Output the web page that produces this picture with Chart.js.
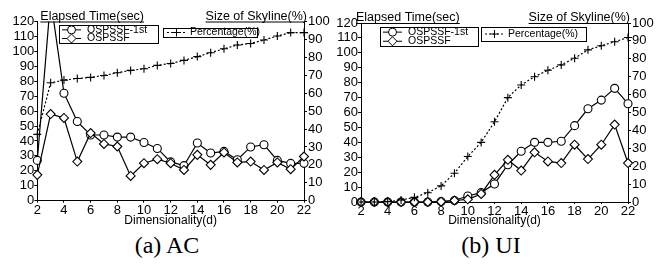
<!DOCTYPE html>
<html lang="en">
<head>
<meta charset="UTF-8">
<script src="https://cdn.jsdelivr.net/npm/chart.js"></script>
<style>
  body { margin: 0; background: #fff; }
  #wrap { position: relative; width: 663px; height: 264px; overflow: hidden; }
  canvas { position: absolute; top: 0; }
  #left { left: 0; }
  #right { left: 331px; }
  .cap {
    position: absolute; top: 232px; width: 160px; text-align: center;
    font-family: "Liberation Serif", "Times New Roman", serif; font-size: 24px; color: #000;
  }
</style>
</head>
<body>
<div id="wrap">
  <canvas id="left" width="331" height="230"></canvas>
  <canvas id="right" width="332" height="230"></canvas>
  <div class="cap" style="left:87px">(a) AC</div>
  <div class="cap" style="left:411px">(b) UI</div>
</div>
<script>
const dims = [2, 3, 4, 5, 6, 7, 8, 9, 10, 11, 12, 13, 14, 15, 16, 17, 18, 19, 20, 21, 22];

// (a) AC
const acFirst = [27, 135, 72, 53, 44, 44, 42.6, 42.6, 39, 35, 26, 23.5, 38.6, 31.9, 33, 27.4, 36, 37.5, 27, 25, 25];
const acSSF   = [17.3, 58, 55.4, 26.2, 45.3, 38, 36.3, 16.6, 25.1, 27.8, 25.1, 20.6, 30.7, 24, 32.3, 25.6, 26.2, 20.6, 25.6, 21.1, 29.6];
const acPct   = [37, 65.8, 67.3, 68.2, 68.8, 69.9, 71.4, 72.7, 73.6, 75.5, 76.6, 78.3, 80.4, 82.6, 84.8, 86.9, 87.7, 89.7, 91.9, 93.8, 93.8];

// (b) UI
const uiFirst = [0, 0, 0, 0, 0, 0, 0.3, 1, 4, 6.3, 12.1, 25, 34, 40, 40, 40.7, 51.2, 62.5, 68.3, 76.2, 65.9];
const uiSSF   = [0, 0, 0, 0, 0, 0, 0.2, 1, 1.8, 5.4, 18.2, 28.3, 21.1, 33.3, 27.2, 26.1, 38.4, 28.8, 38.4, 51.9, 26.1];
const uiPct   = [0, 0, 0.2, 1.1, 2.6, 5.2, 9, 16.1, 25.4, 33.3, 44.8, 58.3, 65.4, 70, 73.6, 76.6, 80.3, 85, 87.3, 89.5, 91.9];

const timeTicks = [0, 120, 10];
const pctTicks = [0, 100, 10];
const FONT = '"Liberation Sans", Arial, sans-serif';

function pts(ys) { return ys.map((y, i) => ({ x: dims[i], y: y })); }

function marker(ctx, style, x, y) {
  ctx.beginPath();
  if (style === 'circle') {
    ctx.arc(x, y, 4, 0, Math.PI * 2);
    ctx.fillStyle = '#fff'; ctx.fill(); ctx.stroke();
  } else if (style === 'diamond') {
    ctx.moveTo(x, y - 4.5); ctx.lineTo(x + 4.5, y); ctx.lineTo(x, y + 4.5); ctx.lineTo(x - 4.5, y); ctx.closePath();
    ctx.fillStyle = '#fff'; ctx.fill(); ctx.stroke();
  } else {
    ctx.moveTo(x - 4, y); ctx.lineTo(x + 4, y); ctx.moveTo(x, y - 4); ctx.lineTo(x, y + 4); ctx.stroke();
  }
}

const decor = {
  id: 'decor',
  afterDraw(chart, args, o) {
    const ctx = chart.ctx, a = chart.chartArea;
    ctx.save();
    ctx.strokeStyle = '#000'; ctx.fillStyle = '#000'; ctx.lineWidth = 1;
    ctx.font = '12.5px ' + FONT;
    ctx.textBaseline = 'alphabetic';
    const t1 = 'Elapsed Time(sec)', t2 = 'Size of Skyline(%)';
    const w1 = ctx.measureText(t1).width, w2 = ctx.measureText(t2).width;
    ctx.textAlign = 'left';
    ctx.fillText(t1, a.left + o.t1dx, a.top - 2);
    ctx.fillText(t2, a.right + o.t2dx - w2, a.top - 2);
    ctx.beginPath();
    ctx.moveTo(a.left + o.t1dx, a.top + 0.5); ctx.lineTo(a.left + o.t1dx + w1, a.top + 0.5);
    ctx.moveTo(a.right + o.t2dx - w2, a.top + 0.5); ctx.lineTo(a.right, a.top + 0.5);
    ctx.stroke();

    // legend boxes
    ctx.font = '10.5px ' + FONT;
    ctx.textBaseline = 'middle';
    const b1 = o.box1, b2 = o.box2;
    ctx.strokeRect(b1[0] + 0.5, b1[1] + 0.5, b1[2], b1[3]);
    ctx.strokeRect(b2[0] + 0.5, b2[1] + 0.5, b2[2], b2[3]);
    const rows = [['circle', 'OSPSSF-1st', b1[1] + b1[3] * 0.27], ['diamond', 'OSPSSF', b1[1] + b1[3] * 0.75]];
    rows.forEach(r => {
      ctx.beginPath(); ctx.setLineDash([]);
      ctx.moveTo(b1[0] + 3, r[2]); ctx.lineTo(b1[0] + 22, r[2]); ctx.stroke();
      marker(ctx, r[0], b1[0] + 12.5, r[2]);
      ctx.fillStyle = '#000';
      ctx.fillText(r[1], b1[0] + 28, r[2]);
    });
    const py = b2[1] + b2[3] / 2;
    ctx.beginPath(); ctx.setLineDash([2, 2]);
    ctx.moveTo(b2[0] + 4, py); ctx.lineTo(b2[0] + 23, py); ctx.stroke();
    ctx.setLineDash([]);
    marker(ctx, 'plus', b2[0] + 13.5, py);
    ctx.fillStyle = '#000';
    ctx.fillText('Percentage(%)', b2[0] + 27, py);
    ctx.restore();
  }
};

function makeChart(id, first, ssf, pct, dim) {
  const line = { borderColor: '#000', borderWidth: 1.2, pointBorderColor: '#000', pointBorderWidth: 1.1,
                 pointBackgroundColor: '#fff', tension: 0, clip: { left: 8, right: 8, top: 0, bottom: 8 } };
  const axisFont = { family: FONT, size: 13 };
  return new Chart(document.getElementById(id), {
    type: 'line',
    data: {
      datasets: [
        Object.assign({ label: 'Percentage(%)', data: pts(pct), yAxisID: 'y2', borderDash: [2, 2],
                        pointStyle: 'cross', pointRadius: 4, pointBorderWidth: 1.3 }, line),
        Object.assign({ label: 'OSPSSF', data: pts(ssf), yAxisID: 'y', pointStyle: 'rectRot', pointRadius: 4.5 }, line),
        Object.assign({ label: 'OSPSSF-1st', data: pts(first), yAxisID: 'y', pointStyle: 'circle', pointRadius: 4 }, line)
      ]
    },
    options: {
      responsive: false,
      devicePixelRatio: 1,
      animation: false,
      layout: { padding: { top: dim.top, left: 0, right: 0, bottom: 0 } },
      plugins: { legend: { display: false }, tooltip: { enabled: false }, decor: dim.decor },
      scales: {
        x: {
          type: 'linear', min: dims[0], max: dims[dims.length - 1],
          afterFit: s => { s.height = dim.xh; },
          ticks: { stepSize: 2, color: '#000', font: axisFont, padding: 0, maxRotation: 0 },
          grid: { drawOnChartArea: false, tickLength: 2, color: '#000' },
          border: { color: '#000' },
          title: { display: true, text: 'Dimensionality(d)', color: '#000', font: { family: FONT, size: 12 }, padding: { top: 0, bottom: 2 } }
        },
        y: {
          position: 'left', min: timeTicks[0], max: timeTicks[1],
          afterFit: s => { s.width = dim.yl; },
          ticks: { stepSize: timeTicks[2], color: '#000', font: axisFont, padding: 0, autoSkip: false },
          grid: { drawOnChartArea: false, tickLength: 3, color: '#000' },
          border: { color: '#000' }
        },
        y2: {
          position: 'right', min: pctTicks[0], max: pctTicks[1],
          afterFit: s => { s.width = dim.yr; },
          ticks: { stepSize: pctTicks[2], color: '#000', font: axisFont, padding: 1, autoSkip: false },
          grid: { drawOnChartArea: false, tickLength: 3, color: '#000' },
          border: { color: '#000' }
        }
      }
    },
    plugins: [decor]
  });
}

makeChart('left', acFirst, acSSF, acPct, {
  top: 21.5, xh: 29.3, yl: 37.3, yr: 27,
  decor: { t1dx: 3, t2dx: 3, box1: [59, 25, 99, 18], box2: [163, 28, 94, 9] }
});
makeChart('right', uiFirst, uiSSF, uiPct, {
  top: 23, xh: 28, yl: 30, yr: 35,
  decor: { t1dx: -5, t2dx: 2, box1: [49, 27, 98, 19], box2: [150, 27, 105, 14] }
});
</script>
</body>
</html>
